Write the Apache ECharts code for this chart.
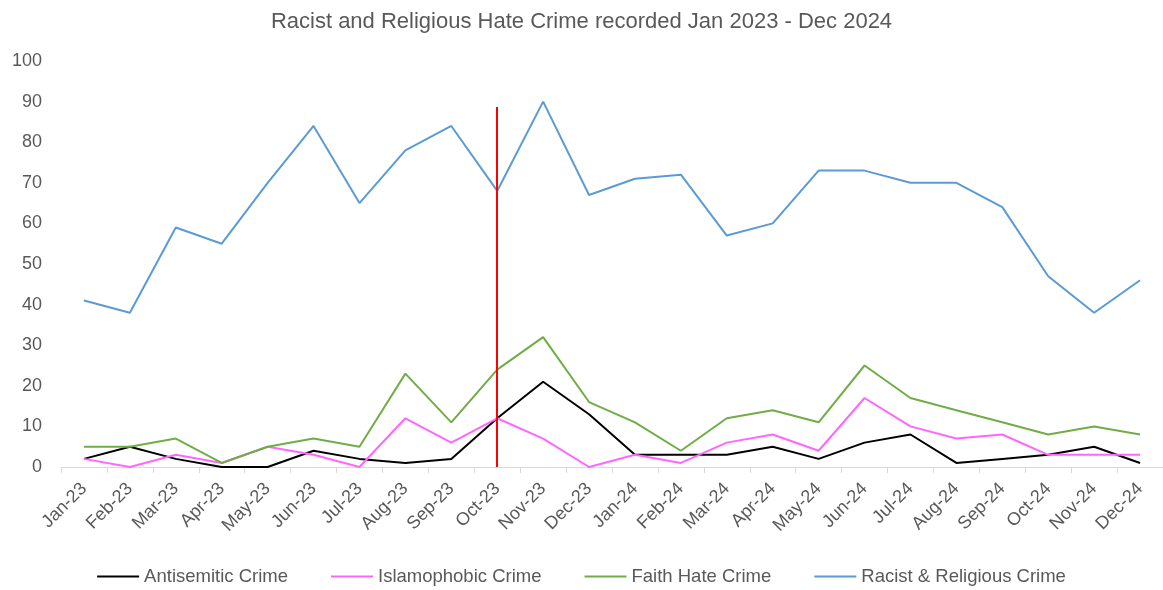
<!DOCTYPE html>
<html>
<head>
<meta charset="utf-8">
<script src="https://cdn.jsdelivr.net/npm/echarts@6/dist/echarts.min.js"></script>
<style>html,body{margin:0;padding:0;background:#fff}#c{width:1163px;height:590px}</style>
</head>
<body>
<div id="c"></div>
<script>
const categories = ['Jan-23','Feb-23','Mar-23','Apr-23','May-23','Jun-23','Jul-23','Aug-23','Sep-23','Oct-23','Nov-23','Dec-23','Jan-24','Feb-24','Mar-24','Apr-24','May-24','Jun-24','Jul-24','Aug-24','Sep-24','Oct-24','Nov-24','Dec-24'];
const antisemitic = [2,5,2,0,0,4,2,1,2,12,21,13,3,3,3,5,2,6,8,1,2,3,5,1];
const islamophobic = [2,0,3,1,5,3,0,12,6,12,7,0,3,1,6,8,4,17,10,7,8,3,3,3];
const faithHate = [5,5,7,1,5,7,5,23,11,24,32,16,11,4,12,14,11,25,17,14,11,8,10,8];
const racistReligious = [41,38,59,55,70,84,65,78,84,68,90,67,71,72,57,60,73,73,70,70,64,47,38,46];
const markerCategory = 'Oct-23';
const markerTop = 88.7;

const FONT = 'Liberation Sans';
const TXT = '#595959';
const chart = echarts.init(document.getElementById('c'));
function s(name, data, color) {
  return {name, type:'line', data, symbol:'none', smooth:false,
    lineStyle:{color, width:2}, itemStyle:{color}, animation:false};
}
const series = [
  s('Antisemitic Crime', antisemitic, '#000000'),
  s('Islamophobic Crime', islamophobic, '#FF66FF'),
  s('Faith Hate Crime', faithHate, '#70AD47'),
  s('Racist & Religious Crime', racistReligious, '#5B9BD5')
];
series[0].markLine = {
  silent:true, symbol:'none', animation:false,
  lineStyle:{color:'#FF0000', width:2, type:'solid'},
  label:{show:false},
  data:[[{xAxis:markerCategory, yAxis:0},{xAxis:markerCategory, yAxis:markerTop}]]
};
chart.setOption({
  animation:false,
  backgroundColor:'#fff',
  title:{text:'Racist and Religious Hate Crime recorded Jan 2023 - Dec 2024', left:'center', top:6,
    textStyle:{fontFamily:FONT, fontSize:22, fontWeight:'normal', color:TXT}},
  legend:{bottom:-1, itemGap:43, itemWidth:42, itemHeight:2, icon:'rect',
    textStyle:{fontFamily:FONT, fontSize:18.5, color:TXT},
    data:series.map(x=>x.name)},
  grid:{left:61, right:0, top:61, bottom:123, containLabel:false},
  xAxis:{type:'category', data:categories, boundaryGap:true,
    axisLine:{lineStyle:{color:'#D9D9D9', width:1}},
    axisTick:{show:true, length:6, lineStyle:{color:'#D9D9D9'}},
    axisLabel:{rotate:45, fontFamily:FONT, fontSize:18, color:TXT, margin:19, interval:0}},
  yAxis:{type:'value', min:0, max:100, interval:10,
    axisLine:{show:false}, axisTick:{show:false}, splitLine:{show:false},
    axisLabel:{fontFamily:FONT, fontSize:18, color:TXT, margin:19}},
  series
});
</script>
</body>
</html>
